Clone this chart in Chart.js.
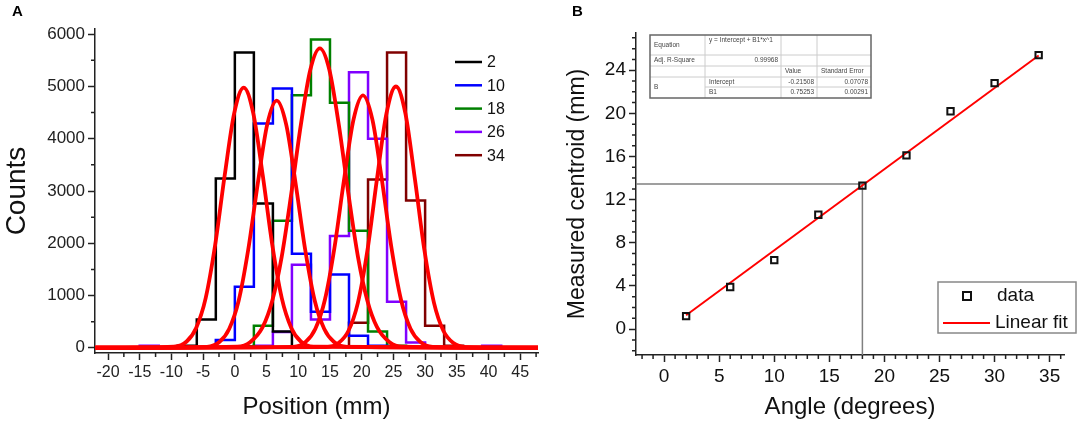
<!DOCTYPE html>
<html>
<head>
<meta charset="utf-8">
<script src="https://cdn.jsdelivr.net/npm/chart.js@4.4.1/dist/chart.umd.min.js"></script>
<style>
  html, body { margin: 0; padding: 0; background: #fff; }
  #wrap { position: relative; width: 1084px; height: 428px; overflow: hidden; }
  canvas { position: absolute; top: 0; }
  #cA { left: 0; }
  #cB { left: 560px; }
</style>
</head>
<body>
<div id="wrap">
  <canvas id="cA" width="560" height="428"></canvas>
  <canvas id="cB" width="524" height="428"></canvas>
</div>
<script>
// ---- panel A: histograms (3 mm bins) ----
const binEdges = [-15,-12,-9,-6,-3,0,3,6,9,12,15,18,21,24,27,30,33,36,39,42];
const histLabels = ['2','10','18','26','34'];
const histColors = ['#000000','#0000ff','#008000','#8000ff','#800000'];
const counts2  = [0,0,40,540,3240,5650,2760,310,0,0,0,0,0,0,0,0,0,0,0];
const counts10 = [0,0,0,0,150,1170,4290,4960,1800,690,1400,230,40,0,0,0,0,0,0];
const counts18 = [0,0,0,0,0,30,420,2430,4830,5900,4690,2240,310,40,0,0,0,0,0];
const counts26 = [40,0,0,0,0,0,40,300,1590,540,2140,5270,4000,880,100,0,0,0,40];
const counts34 = [0,0,0,0,0,0,0,0,0,0,0,480,3220,5650,2820,420,40,0,0];
const countTicks = [0,1000,2000,3000,4000,5000,6000];

// gaussian fit curves
const gaussX2  = [-22,-9.6,-7.6,-6.1,-4.6,-3.1,-1.6,-0.1,1.4,2.9,4.4,5.9,7.4,8.9,10.4,12.4,48];
const gaussY2  = [0,20,120,380,950,1970,3300,4490,4980,4490,3300,1970,950,380,120,20,0];
const gaussX10 = [-22,-4.4,-2.4,-0.9,0.6,2.1,3.6,5.1,6.6,8.1,9.6,11.1,12.6,14.1,15.6,17.6,48];
const gaussY10 = [0,18,115,360,900,1870,3130,4270,4730,4270,3130,1870,900,360,115,18,0];
const gaussX18 = [-22,0.4,2.4,4.4,5.9,7.4,8.9,10.4,11.9,13.4,14.9,16.4,17.9,19.4,20.9,22.4,24.4,26.4,48];
const gaussY18 = [0,22,107,400,900,1750,2950,4260,5320,5730,5320,4260,2950,1750,900,400,107,22,0];
const gaussX26 = [-22,9.2,11.2,12.7,14.2,15.7,17.2,18.7,20.2,21.7,23.2,24.7,26.2,27.7,29.2,31.2,48];
const gaussY26 = [0,19,117,365,920,1910,3200,4360,4830,4360,3200,1910,920,365,117,19,0];
const gaussX34 = [-22,14.4,16.4,17.9,19.4,20.9,22.4,23.9,25.4,26.9,28.4,29.9,31.4,32.9,34.4,36.4,48];
const gaussY34 = [0,14,96,320,860,1860,3220,4480,5000,4480,3220,1860,860,320,96,14,0];

// ---- panel B: centroid vs angle ----
const angles    = [2,6,10,14,18,22,26,30,34];
const centroids = [1.2,3.9,6.4,10.6,13.3,16.1,20.2,22.8,25.4];
const fitX = [2,34];
const fitY = [1.29,25.37];
const crossX = [-2.55,18,18];
const crossY = [13.45,13.45,-2.4];
const fitTable = [
  ['Equation','y = Intercept + B1*x^1','',''],
  ['Adj. R-Square','0.99968','',''],
  ['','','Value','Standard Error'],
  ['B','Intercept','-0.21508','0.07078'],
  ['','B1','0.75253','0.00291']
];

const FONT = "Arial, 'Liberation Sans', sans-serif";
Chart.defaults.font.family = FONT;
Chart.defaults.color = '#222';
Chart.defaults.animation = false;

function zip(xs, ys){ return xs.map((x,i)=>({x:x, y:ys[i]})); }

// step outline for one histogram: horizontal first, then vertical
function stepPoints(edges, c){
    let first = c.findIndex(v=>v>0), last = c.length-1;
    while(last>0 && c[last]===0) last--;
    const pts = [{x:edges[first], y:0}];
    for(let i=first;i<=last;i++) pts.push({x:edges[i], y:c[i]});
    pts.push({x:edges[last+1], y:0});
    return pts;
}

// minor tick marks between the library's major ticks
const minorTicks = {
    id: 'minorTicks',
    afterDraw(chart){
        const ctx = chart.ctx;
        Object.values(chart.scales).forEach(s=>{
            const m = s.options.minorTk;
            if(!m) return;
            ctx.save();
            ctx.strokeStyle = '#222'; ctx.lineWidth = 1.5;
            ctx.beginPath();
            for(let k = Math.ceil(s.min/m.step); k*m.step <= s.max; k++){
                const v = k*m.step;
                if(Math.abs(v/m.major - Math.round(v/m.major)) < 1e-6) continue;
                const p = s.getPixelForValue(v);
                if(s.isHorizontal()){ ctx.moveTo(p, s.top); ctx.lineTo(p, s.top+m.len); }
                else { ctx.moveTo(s.right-m.len, p); ctx.lineTo(s.right, p); }
            }
            ctx.stroke(); ctx.restore();
        });
    }
};

function panelLetter(txt){
    return {
        id: 'letter'+txt,
        afterDraw(chart){
            const ctx = chart.ctx;
            ctx.save();
            ctx.font = 'bold 15px '+FONT; ctx.fillStyle = '#000';
            ctx.textBaseline = 'middle'; ctx.textAlign = 'left';
            ctx.fillText(txt, 12, 12);
            ctx.restore();
        }
    };
}

const legendA = {
    id: 'legendA',
    afterDraw(chart){
        const ctx = chart.ctx, a = chart.chartArea;
        ctx.save();
        ctx.font = '16px '+FONT; ctx.textBaseline = 'middle';
        chart.data.datasets.filter(d=>d.label).forEach((d,i)=>{
            const y = a.top + 33 + i*23.3;
            ctx.strokeStyle = d.borderColor; ctx.lineWidth = 2.5;
            ctx.beginPath(); ctx.moveTo(a.right-83, y); ctx.lineTo(a.right-56, y); ctx.stroke();
            ctx.fillStyle = '#111';
            ctx.fillText(d.label, a.right-51, y+1);
        });
        ctx.restore();
    }
};

const histSets = [counts2,counts10,counts18,counts26,counts34].map((c,i)=>({
    label: histLabels[i], data: stepPoints(binEdges, c), borderColor: histColors[i],
    borderWidth: 2.5, pointRadius: 0, stepped: 'before', fill: false, order: 2
}));
const gaussSets = [[gaussX2,gaussY2],[gaussX10,gaussY10],[gaussX18,gaussY18],[gaussX26,gaussY26],[gaussX34,gaussY34]].map(g=>({
    label: '', data: zip(g[0], g[1]), borderColor: '#ff0000', borderWidth: 3.8,
    pointRadius: 0, cubicInterpolationMode: 'monotone', fill: false, order: 1
}));

new Chart(document.getElementById('cA'), {
    type: 'line',
    data: { datasets: histSets.concat(gaussSets) },
    options: {
        responsive: false,
        layout: { padding: { top: 29, right: 22, left: 0, bottom: 0 } },
        plugins: { legend: { display: false }, tooltip: { enabled: false } },
        scales: {
            x: {
                type: 'linear', min: -22.05, max: 47.8,
                afterFit: s => { s.height = 75; },
                border: { color: '#222', width: 1.5 },
                grid: { drawOnChartArea: false, tickLength: 7, tickWidth: 1.5, tickColor: '#222' },
                ticks: { stepSize: 5, includeBounds: false, padding: 3, font: { size: 16 }, color: '#222', maxRotation: 0 },
                minorTk: { step: 2.5, major: 5, len: 4 },
                title: { display: true, text: 'Position (mm)', font: { size: 24 }, color: '#111', padding: { top: 0, bottom: 6 } }
            },
            y: {
                min: -100, max: 6100,
                afterFit: s => { s.width = 95; },
                afterBuildTicks: s => { s.ticks = countTicks.map(v=>({value: v})); },
                border: { color: '#222', width: 1.5 },
                grid: { drawOnChartArea: false, tickLength: 7, tickWidth: 1.5, tickColor: '#222' },
                ticks: { padding: 3, font: { size: 17 }, color: '#222', callback: v => String(v) },
                minorTk: { step: 500, major: 1000, len: 4 },
                title: { display: true, text: 'Counts', font: { size: 28 }, color: '#111', padding: { top: 0, bottom: 0 } }
            }
        }
    },
    plugins: [minorTicks, legendA, panelLetter('A')]
});

// ---- panel B ----
const legendB = {
    id: 'legendB',
    afterDraw(chart){
        const ctx = chart.ctx, a = chart.chartArea;
        const x0 = a.right - 126, y0 = a.bottom - 73, w = 138, h = 51;
        ctx.save();
        ctx.fillStyle = '#fff'; ctx.fillRect(x0, y0, w, h);
        ctx.strokeStyle = '#888'; ctx.lineWidth = 1.5; ctx.strokeRect(x0, y0, w, h);
        ctx.strokeStyle = '#111'; ctx.lineWidth = 2;
        ctx.strokeRect(x0+25, y0+10, 8, 8);
        ctx.strokeStyle = '#ff0000'; ctx.lineWidth = 2;
        ctx.beginPath(); ctx.moveTo(x0+5, y0+41); ctx.lineTo(x0+52, y0+41); ctx.stroke();
        ctx.fillStyle = '#111'; ctx.font = '19px '+FONT; ctx.textBaseline = 'middle';
        ctx.fillText(chart.data.datasets[2].label, x0+59, y0+14);
        ctx.fillText(chart.data.datasets[1].label, x0+57, y0+41);
        ctx.restore();
    }
};

const tableB = {
    id: 'tableB',
    afterDraw(chart){
        const ctx = chart.ctx, a = chart.chartArea;
        const x0 = a.left + 14, y0 = a.top + 2;
        const cols = [0, 55, 131, 167, 221];
        const rows = [0, 20, 31, 42, 52, 63];
        ctx.save();
        ctx.fillStyle = '#fff'; ctx.fillRect(x0, y0, cols[4], rows[5]);
        ctx.strokeStyle = '#ccc'; ctx.lineWidth = 1;
        ctx.beginPath();
        for(let r=1;r<5;r++){
            const xs = (r===4) ? cols[1] : 0;
            ctx.moveTo(x0+xs, y0+rows[r]); ctx.lineTo(x0+cols[4], y0+rows[r]);
        }
        for(let c=1;c<4;c++){ ctx.moveTo(x0+cols[c], y0); ctx.lineTo(x0+cols[c], y0+rows[5]); }
        ctx.stroke();
        ctx.strokeStyle = '#666'; ctx.lineWidth = 1.5;
        ctx.strokeRect(x0, y0, cols[4], rows[5]);
        ctx.fillStyle = '#444'; ctx.font = '6.5px '+FONT; ctx.textBaseline = 'middle';
        fitTable.forEach((row, r)=>{
            row.forEach((t, c)=>{
                if(!t) return;
                let y = y0 + (rows[r]+rows[r+1])/2;
                if(r===0 && c===1) y = y0 + 5;
                if(r===3 && c===0) y = y0 + rows[4];
                const numeric = /^-?[0-9.]+$/.test(t);
                if(numeric){ ctx.textAlign = 'right'; ctx.fillText(t, x0+cols[c+1]-3, y); }
                else { ctx.textAlign = 'left'; ctx.fillText(t, x0+cols[c]+4, y); }
            });
        });
        ctx.restore();
    }
};

new Chart(document.getElementById('cB'), {
    type: 'line',
    data: { datasets: [
        { label: 'cross', data: zip(crossX, crossY), borderColor: '#808080', borderWidth: 1.5, pointRadius: 0, order: 3 },
        { label: 'Linear fit', data: zip(fitX, fitY), borderColor: '#ff0000', borderWidth: 2, pointRadius: 0, order: 2 },
        { label: 'data', data: zip(angles, centroids), showLine: false, pointStyle: 'rect', pointRadius: 4.5,
          borderColor: '#111', borderWidth: 2, backgroundColor: 'rgba(0,0,0,0)', order: 1 }
    ] },
    options: {
        responsive: false,
        layout: { padding: { top: 33, right: 20, left: 0, bottom: 0 } },
        plugins: { legend: { display: false }, tooltip: { enabled: false } },
        scales: {
            x: {
                type: 'linear', min: -2.55, max: 36.3,
                afterFit: s => { s.height = 73; },
                border: { color: '#222', width: 1.5 },
                grid: { drawOnChartArea: false, tickLength: 7, tickWidth: 1.5, tickColor: '#222' },
                ticks: { stepSize: 5, includeBounds: false, padding: 3, font: { size: 19 }, color: '#111', maxRotation: 0 },
                minorTk: { step: 1, major: 5, len: 4 },
                title: { display: true, text: 'Angle (degrees)', font: { size: 24 }, color: '#111', padding: { top: 0, bottom: 6 } }
            },
            y: {
                min: -2.4, max: 27.45,
                afterFit: s => { s.width = 76; },
                border: { color: '#222', width: 1.5 },
                grid: { drawOnChartArea: false, tickLength: 7, tickWidth: 1.5, tickColor: '#222' },
                ticks: { stepSize: 4, includeBounds: false, padding: 3, font: { size: 19 }, color: '#111' },
                minorTk: { step: 1, major: 4, len: 4 },
                title: { display: true, text: 'Measured centroid (mm)', font: { size: 23 }, color: '#111', padding: { top: 4, bottom: 0 } }
            }
        }
    },
    plugins: [minorTicks, legendB, tableB, panelLetter('B')]
});
</script>
</body>
</html>
